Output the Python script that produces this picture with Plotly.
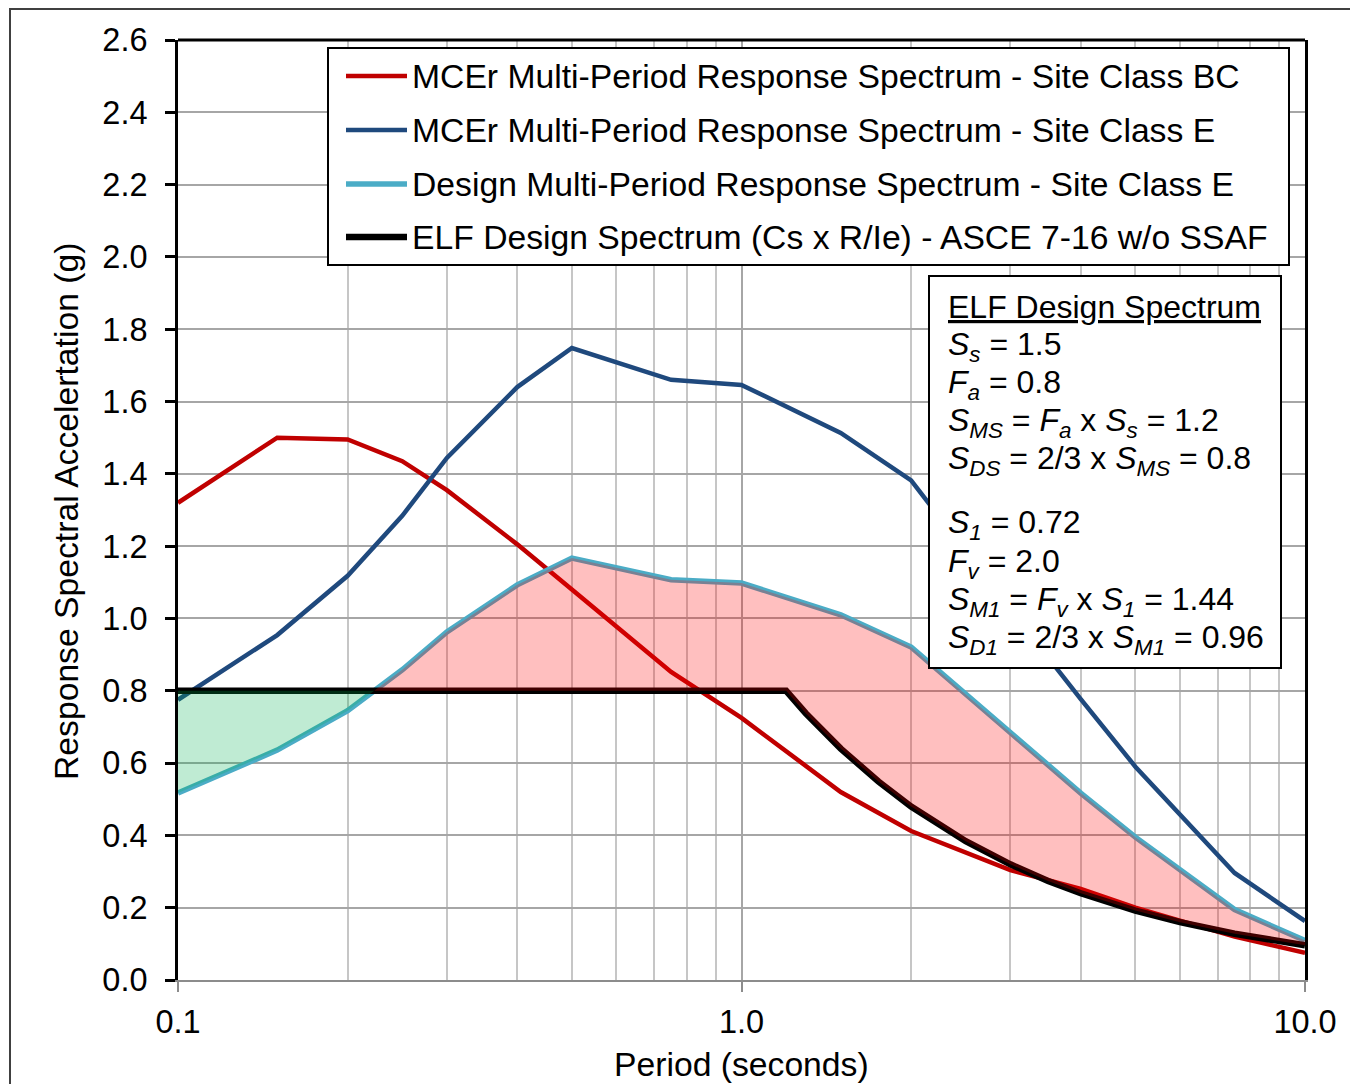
import numpy as np
import plotly.graph_objects as go

# ---------------- data ----------------
periods = [0.1, 0.15, 0.2, 0.25, 0.3, 0.4, 0.5, 0.75, 1.0, 1.5, 2.0, 3.0, 4.0, 5.0, 7.5, 10.0]
mcer_bc = [1.32, 1.50, 1.495, 1.435, 1.355, 1.205, 1.08, 0.852, 0.725, 0.52, 0.412, 0.304, 0.252, 0.20, 0.12, 0.075]
mcer_e = [0.775, 0.954, 1.118, 1.284, 1.444, 1.64, 1.748, 1.66, 1.646, 1.513, 1.382, 1.025, 0.777, 0.59, 0.296, 0.163]
design_e = [0.517, 0.636, 0.745, 0.858, 0.963, 1.093, 1.167, 1.107, 1.098, 1.01, 0.921, 0.683, 0.517, 0.395, 0.195, 0.109]

elf_periods = [0.1, 1.2, 1.3, 1.4, 1.5, 1.75, 2.0, 2.5, 3.0, 3.5, 4.0, 5.0, 6.0, 7.5, 10.0]
elf_values = [0.8, 0.8, 0.738, 0.686, 0.64, 0.549, 0.48, 0.384, 0.32, 0.274, 0.24, 0.192, 0.16, 0.128, 0.096]

series_names = [
    "MCEr Multi-Period Response Spectrum - Site Class BC",
    "MCEr Multi-Period Response Spectrum - Site Class E",
    "Design Multi-Period Response Spectrum - Site Class E",
    "ELF Design Spectrum (Cs x R/Ie) - ASCE 7-16 w/o SSAF",
]
series_colors = ["#C00000", "#1F497D", "#4BACC6", "#000000"]
series_widths = [4.5, 4.5, 5.5, 6.5]

x_tick_vals = [0.1, 1.0, 10.0]
x_tick_text = ["0.1", "1.0", "10.0"]
x_minor_vals = [0.2, 0.3, 0.4, 0.5, 0.6, 0.7, 0.8, 0.9, 2, 3, 4, 5, 6, 7, 8, 9]

box_lines = [
    "<u>ELF Design Spectrum</u>",
    "<i>S<sub>s</sub></i> = 1.5",
    "<i>F<sub>a</sub></i> = 0.8",
    "<i>S<sub>MS</sub></i> = <i>F<sub>a</sub></i> x <i>S<sub>s</sub></i> = 1.2",
    "<i>S<sub>DS</sub></i> = 2/3 x <i>S<sub>MS</sub></i> = 0.8",
    "<i>S<sub>1</sub></i> = 0.72",
    "<i>F<sub>v</sub></i> = 2.0",
    "<i>S<sub>M1</sub></i> = <i>F<sub>v</sub></i> x <i>S<sub>1</sub></i> = 1.44",
    "<i>S<sub>D1</sub></i> = 2/3 x <i>S<sub>M1</sub></i> = 0.96",
]
box_line_py = [307, 346, 384, 422, 460, 524, 563, 601, 639]

FONT = "Liberation Sans, Arial, Helvetica, sans-serif"
FS_LEG = 33.7
FS_BOX = 32
FS_TICK = 32.5
FS_TITLE = 33.7

# ---------------- geometry helpers (page pixel -> paper) ----------------
OFF = 8  # default page body margin
W, H = 1358 - 2 * OFF, 1092 - 2 * OFF
PL, PR, PT, PB = 178 - OFF, 1305 - OFF, 40 - OFF, 980 - OFF
def px_x(px):
    return (px - OFF - PL) / (PR - PL)
def px_y(py):
    return (PB - (py - OFF)) / (PB - PT)

# ---------------- fills between design and ELF ----------------
def interp(T, xs, ys):
    return np.interp(np.log10(T), np.log10(xs), ys)

grid = np.unique(np.concatenate([periods, elf_periods]))
lg = np.log10(grid)
d = interp(grid, periods, design_e) - interp(grid, elf_periods, elf_values)
pts = [lg[0]]
for i in range(len(lg) - 1):
    if d[i] * d[i + 1] < 0:
        t = d[i] / (d[i] - d[i + 1])
        pts.append(lg[i] + t * (lg[i + 1] - lg[i]))
    pts.append(lg[i + 1])
full = 10 ** np.array(pts)
dfull = interp(full, periods, design_e) - interp(full, elf_periods, elf_values)

fills = []
seg = [0]
for i in range(1, len(full)):
    seg.append(i)
    if abs(dfull[i]) < 1e-9 or i == len(full) - 1:
        if len(seg) > 1:
            fills.append(seg)
        seg = [i]

fig = go.Figure()

xs_all = [periods, periods, periods, elf_periods]
ys_all = [mcer_bc, mcer_e, design_e, elf_values]
for k in range(4):
    fig.add_trace(go.Scatter(
        x=xs_all[k], y=ys_all[k], mode="lines", name=series_names[k],
        line=dict(color=series_colors[k], width=series_widths[k]),
        showlegend=False, hoverinfo="skip"))

for seg in fills:
    xs = full[seg]
    up = interp(xs, periods, design_e)
    lo = interp(xs, elf_periods, elf_values)
    mid = np.mean(up - lo)
    color = "rgba(255,0,0,0.25)" if mid > 0 else "rgba(0,176,80,0.25)"
    fig.add_trace(go.Scatter(
        x=np.concatenate([xs, xs[::-1]]),
        y=np.concatenate([up, lo[::-1]]),
        mode="lines", line=dict(width=0), fill="toself", fillcolor=color,
        showlegend=False, hoverinfo="skip"))

shapes = []
annotations = []

# outer chart border (top edge sits at the top of the figure)
shapes.append(dict(type="rect", xref="paper", yref="paper",
                   x0=px_x(10), x1=px_x(1420), y0=px_y(1120), y1=px_y(OFF + 1),
                   line=dict(color="#404040", width=2), layer="below"))
# top plot border
shapes.append(dict(type="line", xref="paper", yref="paper",
                   x0=0, x1=1, y0=1, y1=1, line=dict(color="black", width=3)))

# legend box
shapes.append(dict(type="rect", xref="paper", yref="paper",
                   x0=px_x(328), x1=px_x(1289), y0=px_y(265), y1=px_y(48),
                   line=dict(color="black", width=2), fillcolor="white", layer="above"))
legend_py = [76, 130, 184, 237]
for k in range(4):
    shapes.append(dict(type="line", xref="paper", yref="paper",
                       x0=px_x(346), x1=px_x(407), y0=px_y(legend_py[k]), y1=px_y(legend_py[k]),
                       line=dict(color=series_colors[k], width=series_widths[k]), layer="above"))
    annotations.append(dict(xref="paper", yref="paper", x=px_x(410), y=px_y(legend_py[k]),
                            text=series_names[k], showarrow=False, xanchor="left", yanchor="middle",
                            font=dict(family=FONT, size=FS_LEG, color="black")))

# text box
shapes.append(dict(type="rect", xref="paper", yref="paper",
                   x0=px_x(929), x1=px_x(1281), y0=px_y(668), y1=px_y(276),
                   line=dict(color="black", width=2), fillcolor="white", layer="above"))
for txt, py in zip(box_lines, box_line_py):
    annotations.append(dict(xref="paper", yref="paper", x=px_x(946), y=px_y(py),
                            text=txt, showarrow=False, xanchor="left", yanchor="middle",
                            font=dict(family=FONT, size=FS_BOX, color="black")))

# axis titles
annotations.append(dict(xref="paper", yref="paper", x=px_x(741), y=px_y(1064),
                        text="Period (seconds)", showarrow=False, xanchor="center", yanchor="middle",
                        font=dict(family=FONT, size=FS_TITLE, color="black")))
annotations.append(dict(xref="paper", yref="paper", x=px_x(66), y=px_y(512),
                        text="Response Spectral Accelertation (g)", showarrow=False, textangle=-90,
                        xanchor="center", yanchor="middle",
                        font=dict(family=FONT, size=FS_TITLE, color="black")))

fig.update_layout(
    width=W, height=H,
    margin=dict(l=PL, r=W - PR, t=PT, b=H - PB, pad=0),
    paper_bgcolor="white", plot_bgcolor="white",
    font=dict(family=FONT, size=FS_TICK, color="black"),
    shapes=shapes, annotations=annotations,
    showlegend=False,
    xaxis=dict(
        type="log", range=[-1, 1],
        tickmode="array", tickvals=x_tick_vals, ticktext=x_tick_text,
        ticks="outside", ticklen=10, tickwidth=2, tickcolor="#8C8C8C",
        showline=True, linecolor="#8C8C8C", linewidth=2,
        showgrid=True, gridcolor="#A6A6A6", gridwidth=2,
        minor=dict(tickmode="array", tickvals=x_minor_vals, showgrid=True,
                   gridcolor="#C6C6C6", gridwidth=2, ticks=""),
        zeroline=False, ticklabelstandoff=2,
        tickfont=dict(family=FONT, size=FS_TICK, color="black"),
    ),
    yaxis=dict(
        range=[0, 2.6], tickmode="linear", tick0=0, dtick=0.2, tickformat=".1f",
        ticks="outside", ticklen=10, tickwidth=2.5, tickcolor="black",
        showline=True, linecolor="black", linewidth=3, mirror=True,
        showgrid=True, gridcolor="#A6A6A6", gridwidth=2,
        zeroline=False, ticklabelstandoff=11,
        tickfont=dict(family=FONT, size=FS_TICK, color="black"),
    ),
)

fig.write_html("out.html")
